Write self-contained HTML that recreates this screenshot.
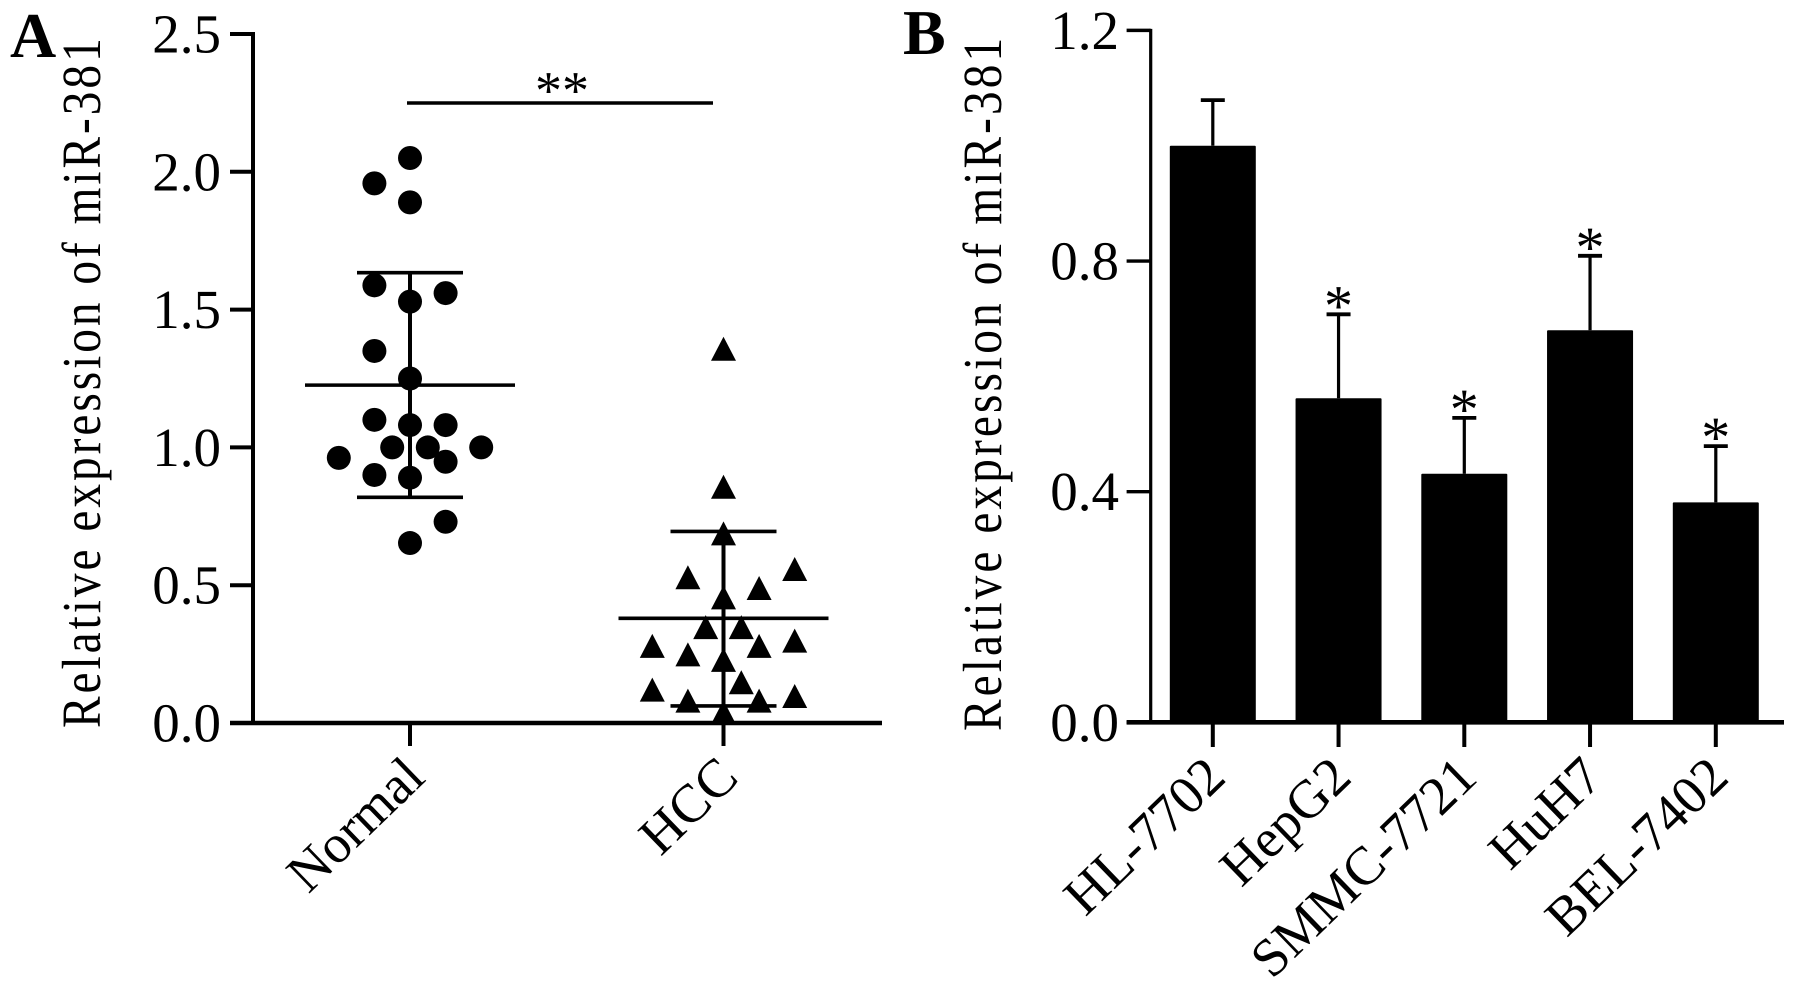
<!DOCTYPE html>
<html lang="en">
<head>
<meta charset="utf-8">
<title>Relative expression of miR-381</title>
<style>
html,body{margin:0;padding:0;background:#fff;}
svg{display:block;}
text{font-family:"Liberation Serif","Times New Roman",serif;fill:#000;}
</style>
</head>
<body>
<svg id="figure" xmlns="http://www.w3.org/2000/svg" width="1795" height="989" viewBox="0 0 1795 989">
  <rect x="0" y="0" width="1795" height="989" fill="#fff"/>
  <text x="10" y="57" font-size="64" font-weight="bold">A</text>
  <text x="903" y="54" font-size="64" font-weight="bold">B</text>
  <text transform="translate(100,728) rotate(-90) scale(0.86,1)" font-size="55" textLength="802" lengthAdjust="spacing">Relative expression of miR-381</text>
  <text transform="translate(1001,731) rotate(-90) scale(0.86,1)" font-size="55" textLength="806" lengthAdjust="spacing">Relative expression of miR-381</text>
  <g id="panel-a"></g>
  <g id="panel-b"></g>
</svg>
<script>
// Panel A data
const scatterCategories = ['Normal', 'HCC'];
const scatterTicks = [0, 0.5, 1, 1.5, 2, 2.5];
const scatterTickLabels = ['0.0', '0.5', '1.0', '1.5', '2.0', '2.5'];
const normalValues = [2.05, 1.958, 1.889, 1.588, 1.56, 1.529, 1.35, 1.25, 1.10, 1.081, 1.081, 1.0, 1.0, 1.0, 0.962, 0.948, 0.90, 0.89, 0.73, 0.653];
const normalSlots = [0, -1, 0, -1, 1, 0, -1, 0, -1, 0, 1, -0.5, 0.5, 2, -2, 1, -1, 0, 1, 0];
const hccValues = [1.358, 0.857, 0.688, 0.529, 0.559, 0.49, 0.456, 0.348, 0.348, 0.28, 0.249, 0.28, 0.299, 0.229, 0.148, 0.121, 0.081, 0.081, 0.098, 0.039];
const hccSlots = [0, 0, 0, -1, 2, 1, 0, -0.5, 0.5, -2, -1, 1, 2, 0, 0.5, -2, -1, 1, 2, 0];
const scatterMeans = [1.226, 0.38];
const scatterUpper = [1.634, 0.695];
const scatterLower = [0.819, 0.062];

// Panel B data
const barCategories = ['HL-7702', 'HepG2', 'SMMC-7721', 'HuH7', 'BEL-7402'];
const barValues = [1.0, 0.562, 0.431, 0.68, 0.3815];
const barErrorTops = [1.079, 0.7076, 0.528, 0.809, 0.479];
const barSignificance = ['', '*', '*', '*', '*'];
const barTicks = [0, 0.4, 0.8, 1.2];
const barTickLabels = ['0.0', '0.4', '0.8', '1.2'];

// Axis functions
const yA = v => 723 - v * 275.6;
const xA = i => 410 + i * 313.5;
const slotA = s => s * 35.6;
const yB = v => 722.3 - v * 576.6;
const xB = i => 1212.8 + i * 125.75;

const NS = 'http://www.w3.org/2000/svg';
const panelA = document.getElementById('panel-a');
const panelB = document.getElementById('panel-b');

function make(parent, tag, attrs, content) {
  const el = document.createElementNS(NS, tag);
  for (const k in attrs) el.setAttribute(k, attrs[k]);
  if (content !== undefined) el.textContent = content;
  parent.appendChild(el);
  return el;
}
function line(parent, x1, y1, x2, y2, w) {
  return make(parent, 'line', { x1: x1, y1: y1, x2: x2, y2: y2, stroke: '#000', 'stroke-width': w });
}

let el;

// ---------- Panel A ----------
el = line(panelA, 253, yA(2.5) - 2, 253, yA(0) + 2, 4);


el = line(panelA, 230, yA(0), 882, yA(0), 4.6);



scatterTicks.forEach((t, i) => {
  let m = line(panelA, 230, yA(t), 253, yA(t), 4);
  
  
  m = make(panelA, 'text', { x: 221, y: yA(t) + 18.5, 'font-size': 55, 'text-anchor': 'end' }, scatterTickLabels[i]);
  
  
});

scatterCategories.forEach((c, i) => {
  const x = xA(i);
  let m = line(panelA, x, yA(0), x, 746, 4);
  
  
  m = make(panelA, 'text', { transform: 'translate(' + (x + 17) + ',780) rotate(-44)', 'font-size': 54, 'text-anchor': 'end' }, c);
  
  

  m = line(panelA, x - 105, yA(scatterMeans[i]), x + 105, yA(scatterMeans[i]), 3.6);
  
  
  m = line(panelA, x, yA(scatterUpper[i]), x, yA(scatterLower[i]), 4);
  
  
  m = line(panelA, x - 53, yA(scatterUpper[i]), x + 53, yA(scatterUpper[i]), 3.6);
  
  
  m = line(panelA, x - 53, yA(scatterLower[i]), x + 53, yA(scatterLower[i]), 3.6);
  
  
});

normalValues.forEach((v, i) => {
  const m = make(panelA, 'circle', { cx: xA(0) + slotA(normalSlots[i]), cy: yA(v), r: 12, fill: '#000' });
  
  
});

hccValues.forEach((v, i) => {
  const cx = xA(1) + slotA(hccSlots[i]);
  const cy = yA(v);
  const pts = cx + ',' + (cy - 12) + ' ' + (cx + 12.5) + ',' + (cy + 12) + ' ' + (cx - 12.5) + ',' + (cy + 12);
  const m = make(panelA, 'polygon', { points: pts, fill: '#000' });
  
  
});

el = line(panelA, 407, 103, 713, 103, 3.4);


el = make(panelA, 'text', { x: 562, y: 108.5, 'font-size': 54, 'text-anchor': 'middle' }, '**');



// ---------- Panel B ----------
el = line(panelB, 1150.7, yB(1.2) - 1.5, 1150.7, yB(0), 3.2);



barTicks.forEach((t, i) => {
  let m = line(panelB, 1126.6, yB(t), 1150.7, yB(t), 3.4);
  
  
  m = make(panelB, 'text', { x: 1119, y: yB(t) + 18.5, 'font-size': 55, 'text-anchor': 'end' }, barTickLabels[i]);
  
  
});

barCategories.forEach((c, i) => {
  const x = xB(i);
  let m = line(panelB, x, yB(barErrorTops[i]), x, yB(barValues[i]), 3.2);
  
  
  m = line(panelB, x - 12, yB(barErrorTops[i]), x + 12, yB(barErrorTops[i]), 3.8);
  
  
  m = make(panelB, 'rect', { x: x - 43, y: yB(barValues[i]), width: 86, height: yB(0) - yB(barValues[i]), rx: 1, fill: '#000' });
  
  
  m = line(panelB, x, yB(0), x, 747, 4);
  
  
  m = make(panelB, 'text', { transform: 'translate(' + (x + 15) + ',780) rotate(-44)', 'font-size': 54, 'text-anchor': 'end' }, c);
  
  
  if (barSignificance[i]) {
    m = make(panelB, 'text', { x: x, y: yB(barErrorTops[i]) + 11, 'font-size': 58, 'text-anchor': 'middle' }, barSignificance[i]);
    
    
  }
});

el = line(panelB, 1126.6, yB(0), 1784, yB(0), 4.6);


</script>
</body>
</html>
